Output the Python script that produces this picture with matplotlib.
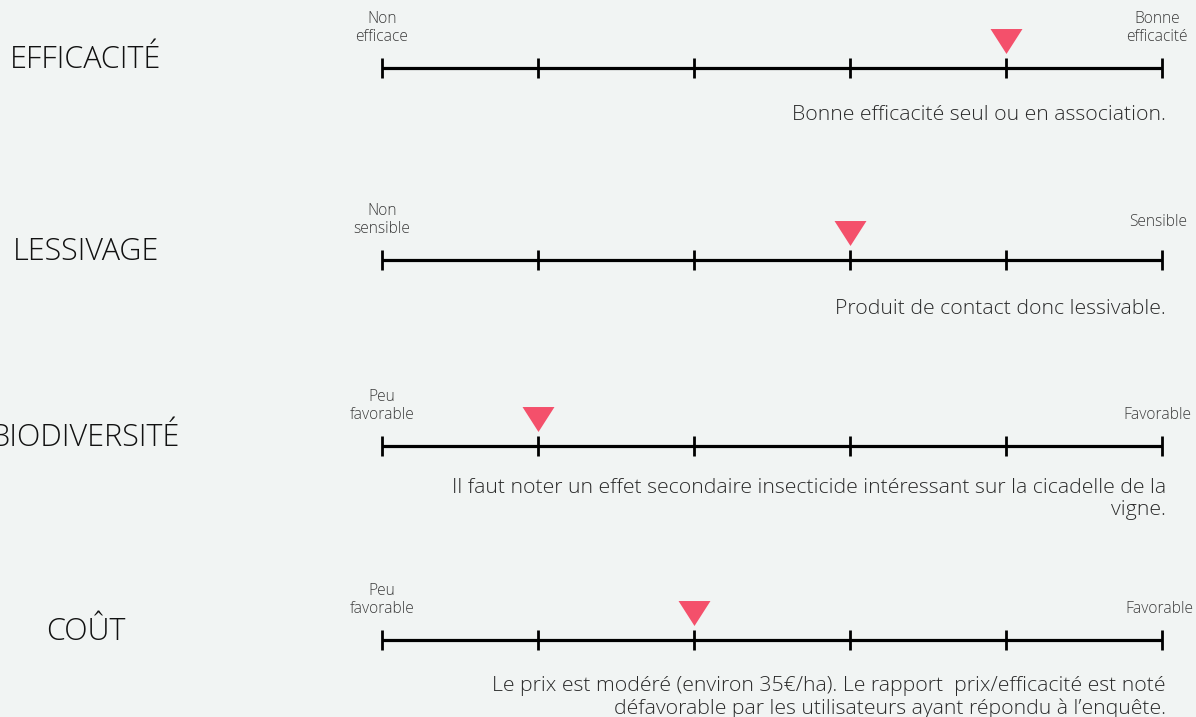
#!/usr/bin/env python3

import matplotlib
matplotlib.use('Agg')
import matplotlib.pyplot as plt

# criteria and their scores on a 0..5 scale
criteres = ['EFFICACITÉ', 'LESSIVAGE', 'BIODIVERSITÉ', 'COÛT']
scores = [4, 3, 1, 2]
gauche = ['Non\nefficace', 'Non\nsensible', 'Peu\nfavorable', 'Peu\nfavorable']
droite = ['Bonne\nefficacité', 'Sensible', 'Favorable', 'Favorable']
commentaires = [
    'Bonne efficacité seul ou en association.',
    'Produit de contact donc lessivable.',
    'Il faut noter un effet secondaire insecticide intéressant sur la cicadelle de la\nvigne.',
    'Le prix est modéré (environ 35€/ha). Le rapport  prix/efficacité est noté\ndéfavorable par les utilisateurs ayant répondu à l’enquête.',
]
nticks = 6

bg = '#f1f4f3'
rouge = '#f4506b'
plt.rcParams['font.family'] = ['Open Sans', 'DejaVu Sans']

W, H = 1196, 717
fig = plt.figure(figsize=(W / 100, H / 100), dpi=100, facecolor=bg)
ax = fig.add_axes([0, 0, 1, 1])
ax.set_facecolor(bg)
ax.axis('off')

# x: score units (0 at 382px, 5 at 1162px); y: pixels from top
x0, x1 = 382, 1162
u = (x1 - x0) / (nticks - 1)
ax.set_xlim(-x0 / u, (W - x0) / u)
ax.set_ylim(H, 0)

rows = [68, 260, 446, 640]
desc_dy = [37, 39, 32, 36]
right_dy = [23, 30, 23, 23]
right_dx = [-5, 25, 29, 31]
tri = [(-16, 12.5), (16, 12.5), (0, -12.5)]

for i, y in enumerate(rows):
    ax.plot([0, nticks - 1], [y, y], color='black', lw=2.3, solid_capstyle='butt')
    for t in range(nticks):
        ax.plot([t, t], [y - 10, y + 10], color='black', lw=2.0, solid_capstyle='butt')
    ax.plot(scores[i], y - 27.5, marker=tri, markersize=23, color=rouge, mec='none')

    fig.text(86 / W, 1 - (y - 8) / H, criteres[i], ha='center', va='center',
             fontsize=22, fontweight='light', color='#111111')

    # endpoint labels
    ax.text(0, y - 23, gauche[i], ha='center', va='bottom', fontsize=11.2,
            fontweight='light', color='#3a3a3a', linespacing=1.2)
    ax.text(nticks - 1 + right_dx[i] / u, y - right_dy[i], droite[i],
            ha='center' if '\n' in droite[i] else 'right', va='bottom',
            fontsize=11.2, fontweight='light', color='#3a3a3a', linespacing=1.2)

    ax.text(nticks - 1 + 4 / u, y + desc_dy[i], commentaires[i], ha='right', va='top',
            fontsize=15.3, fontweight='light', color='#2a2a2a', linespacing=1.15)

fig.savefig('out.png', dpi=100, facecolor=bg)
